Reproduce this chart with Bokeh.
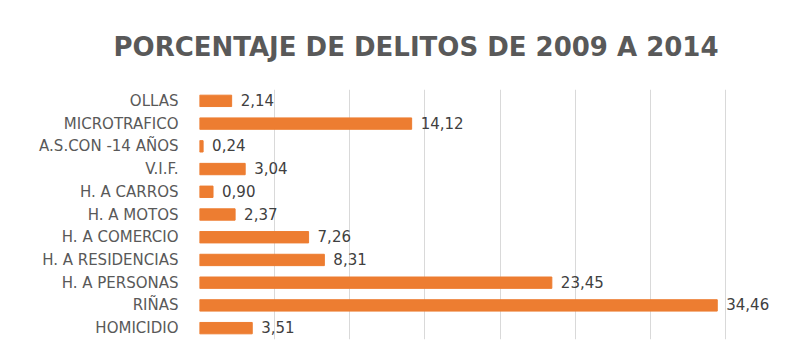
from bokeh.plotting import figure
from bokeh.models import FactorRange, Range1d, FixedTicker, ColumnDataSource
from bokeh.core.properties import value
from bokeh.embed import file_html
from bokeh.resources import INLINE

title_text = "PORCENTAJE DE DELITOS DE 2009 A 2014"
categories = ["OLLAS", "MICROTRAFICO", "A.S.CON -14 AÑOS", "V.I.F.", "H. A CARROS",
              "H. A MOTOS", "H. A COMERCIO", "H. A RESIDENCIAS", "H. A PERSONAS",
              "RIÑAS", "HOMICIDIO"]
values = [2.14, 14.12, 0.24, 3.04, 0.90, 2.37, 7.26, 8.31, 23.45, 34.46, 3.51]
x_ticks = [0, 5, 10, 15, 20, 25, 30, 35, 40]

labels = [f"{v:.2f}".replace(".", ",") for v in values]
src = ColumnDataSource(dict(cat=categories, val=values, lab=labels))

FONT = "DejaVu Sans"

p = figure(width=807, height=355, output_backend="svg", toolbar_location=None,
           y_range=FactorRange(factors=list(reversed(categories))),
           x_range=Range1d(0, 40),
           min_border_left=199, min_border_right=7, min_border_top=89, min_border_bottom=16)

p.title.text = title_text
p.title.align = "left"
p.title.offset = -86
p.title.text_font = FONT
p.title.text_font_size = "26px"
p.title.text_font_style = "bold"
p.title.text_color = "#595959"
p.title.standoff = 56

p.hbar(y="cat", right="val", left=0, height=0.5, source=src, color="#ED7D31")
p.text(x="val", y="cat", text="lab", source=src, x_offset=9, y_offset=-1,
       text_baseline="middle", text_align="left",
       text_font=value(FONT), text_font_size="15px", text_color="#404040")

p.xaxis.visible = False
p.xaxis.ticker = FixedTicker(ticks=x_ticks)
p.xgrid.ticker = FixedTicker(ticks=x_ticks)
p.xgrid.grid_line_color = "#d9d9d9"
p.ygrid.grid_line_color = None
p.yaxis.axis_line_color = None
p.yaxis.major_tick_line_color = None
p.yaxis.minor_tick_line_color = None
p.yaxis.major_label_standoff = 15
p.yaxis.major_label_text_font = FONT
p.yaxis.major_label_text_font_size = "15px"
p.yaxis.major_label_text_color = "#595959"
p.outline_line_color = None

open("out.html", "w").write(file_html(p, INLINE))
